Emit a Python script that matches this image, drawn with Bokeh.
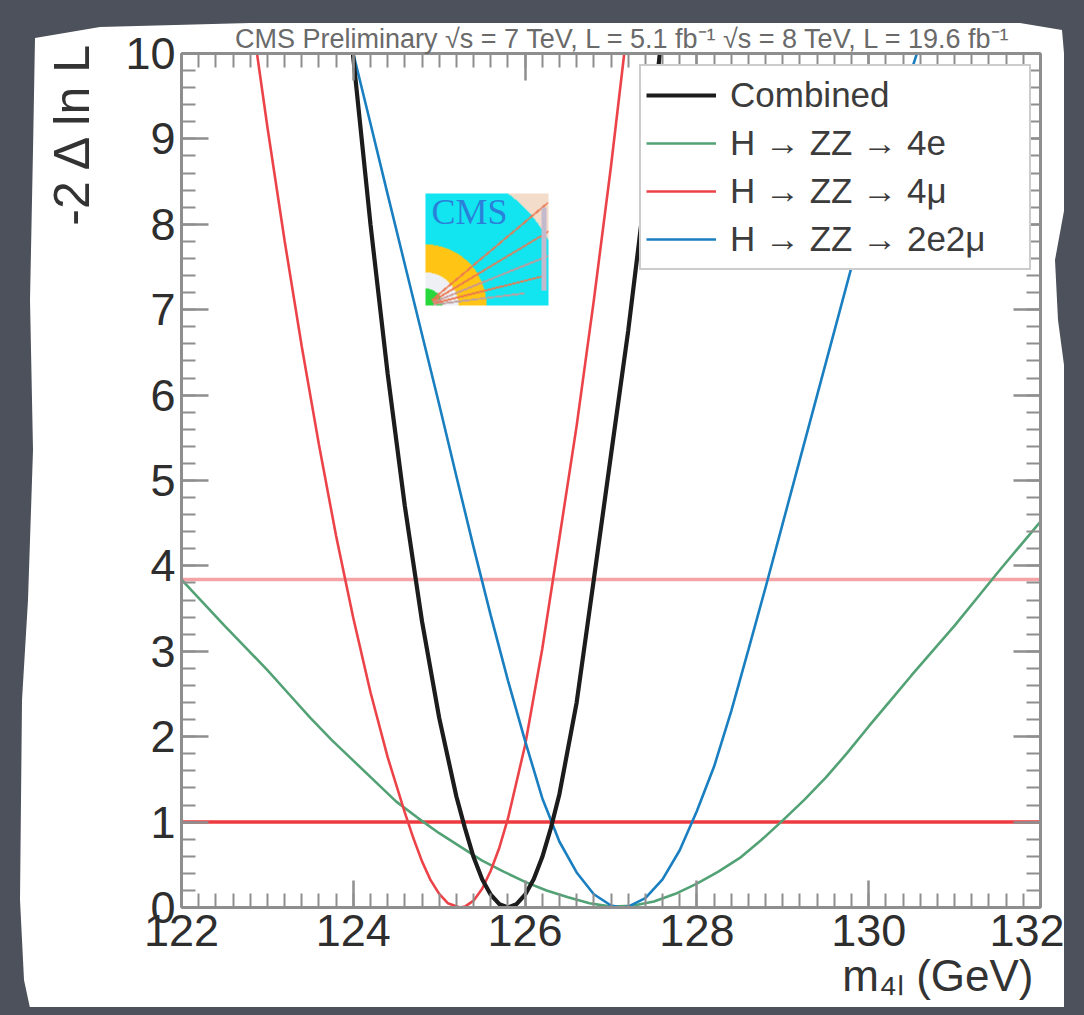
import numpy as np
from bokeh.plotting import figure
from bokeh.models import (Label, Span, SingleIntervalTicker, LinearAxis, Range1d, Legend,
                          LegendItem, Title)
from bokeh.embed import file_html
from bokeh.resources import INLINE

# ---------------- data ----------------
x_range_gev = [122, 132]
y_range_nll = [0, 10]
ref_levels = [1.0, 3.84]          # 68% and 95% CL lines

mass_combined = [123.9, 124.0, 124.2, 124.4, 124.6, 124.8, 125.0, 125.2, 125.3, 125.4, 125.5,
                 125.6, 125.7, 125.8, 125.9, 126.0, 126.1, 126.2, 126.3, 126.4, 126.6, 126.8,
                 127.0, 127.2, 127.4, 127.6]
nll_combined = [10.99, 9.95, 8.0, 6.25, 4.70, 3.35, 2.22, 1.30, 0.93, 0.59, 0.33,
                0.15, 0.04, 0.0, 0.04, 0.15, 0.33, 0.59, 0.93, 1.33, 2.40, 3.84,
                5.3, 6.75, 8.4, 10.3]

mass_4e = [122.0, 122.25, 122.5, 122.75, 123.0, 123.25, 123.5, 123.75, 124.0, 124.25, 124.5,
           124.75, 125.0, 125.25, 125.5, 125.75, 126.0, 126.25, 126.5, 126.75, 127.0, 127.25,
           127.5, 127.75, 128.0, 128.25, 128.5, 128.75, 129.0, 129.25, 129.5, 129.75, 130.0,
           130.25, 130.5, 130.75, 131.0, 131.25, 131.5, 131.75, 132.0]
nll_4e = [3.84, 3.57, 3.30, 3.04, 2.78, 2.50, 2.22, 1.96, 1.72, 1.48, 1.24,
          1.05, 0.87, 0.71, 0.55, 0.42, 0.30, 0.20, 0.12, 0.05, 0.01, 0.02,
          0.07, 0.16, 0.28, 0.42, 0.58, 0.79, 1.02, 1.26, 1.52, 1.81, 2.12,
          2.42, 2.72, 3.01, 3.30, 3.61, 3.92, 4.22, 4.52]

mass_4mu = [122.8, 123.0, 123.2, 123.4, 123.6, 123.8, 124.0, 124.2, 124.4, 124.6, 124.7, 124.8,
            124.9, 125.0, 125.1, 125.24, 125.3, 125.4, 125.5, 125.6, 125.7, 125.8, 126.0, 126.2,
            126.4, 126.6, 126.8, 127.0, 127.2]
nll_4mu = [10.56, 9.14, 7.81, 6.57, 5.42, 4.35, 3.39, 2.52, 1.76, 1.11, 0.81, 0.54,
           0.32, 0.16, 0.05, 0.0, 0.01, 0.08, 0.22, 0.43, 0.70, 1.04, 1.90, 3.03,
           4.33, 5.64, 7.11, 8.68, 10.39]

mass_2e2mu = [123.9, 124.0, 124.2, 124.4, 124.6, 124.8, 125.0, 125.2, 125.4, 125.6, 125.8, 126.0,
              126.2, 126.4, 126.6, 126.8, 127.0, 127.125, 127.2, 127.4, 127.6, 127.8, 128.0, 128.2,
              128.4, 128.6, 128.8, 129.0, 129.2, 129.4, 129.6, 129.8, 130.0, 130.2, 130.4, 130.6]
nll_2e2mu = [10.4, 10.0, 9.18, 8.35, 7.53, 6.71, 5.89, 5.05, 4.22, 3.42, 2.66, 1.95,
             1.28, 0.77, 0.41, 0.155, 0.023, 0.0, 0.01, 0.11, 0.33, 0.67, 1.13, 1.65,
             2.30, 3.02, 3.75, 4.5, 5.25, 6.0, 6.75, 7.5, 8.2, 8.85, 9.5, 10.12]

series_labels = ["Combined", "H \u2192 ZZ \u2192 4e", "H \u2192 ZZ \u2192 4\u03bc",
                 "H \u2192 ZZ \u2192 2e2\u03bc"]
title_text = ("CMS Preliminary  \u221as = 7 TeV, L = 5.1 fb\u207b\u00b9  "
              "\u221as = 8 TeV, L = 19.6 fb\u207b\u00b9")
x_title = "m\u2084\u2097 (GeV)"
y_title = "-2 \u0394 ln L"

# ---------------- styling ----------------
C_BLACK, C_GREEN, C_RED, C_BLUE = "#1c1c1c", "#52a275", "#ec4349", "#1a7fc0"
DARK = "#4c515b"
FONT = "Liberation Sans"
LEFT, TOP = 17, 19          # where the paper sheet starts on the page

p = figure(x_range=Range1d(*x_range_gev), y_range=Range1d(*y_range_nll),
           frame_width=859, frame_height=854,
           min_border_left=181 - LEFT, min_border_right=24, min_border_top=53 - TOP,
           min_border_bottom=100,
           x_axis_type=None, y_axis_type=None,
           output_backend="svg", toolbar_location=None)
p.background_fill_color = "white"
p.border_fill_color = "white"
p.outline_line_color = None
p.margin = (TOP, 0, 0, LEFT)

# torn paper outline (page pixels), used as a clip path of the sheet
torn = [(35, 38), (100, 27), (250, 23), (1020, 23), (1062, 30), (1068, 100), (1066, 200),
        (1055, 260), (1058, 320), (1066, 380), (1066, 1010), (30, 1008), (24, 980),
        (20, 900), (22, 700), (28, 600), (33, 450), (30, 300), (33, 150)]
p.styles = {"clip-path": "polygon(" + ", ".join(f"{a - LEFT}px {b - TOP}px" for a, b in torn) + ")"}


def style_axis(ax, show_labels):
    ax.axis_line_color = "#8e8e8e"
    ax.axis_line_width = 3
    ax.major_tick_line_color = "#8e8e8e"
    ax.major_tick_line_width = 2.5
    ax.major_tick_in = 27
    ax.major_tick_out = 0
    ax.minor_tick_line_color = "#8e8e8e"
    ax.minor_tick_line_width = 2
    ax.minor_tick_in = 14
    ax.minor_tick_out = 0
    ax.major_label_text_font = FONT
    ax.major_label_text_font_size = "45px"
    ax.major_label_text_color = "#2e2e2e"
    if not show_labels:
        ax.major_label_text_font_size = "1px"
        ax.major_label_text_color = None
        ax.major_label_standoff = 0


xb = LinearAxis(ticker=SingleIntervalTicker(interval=2, num_minor_ticks=10))
style_axis(xb, True)
xb.major_label_standoff = 7
p.add_layout(xb, "below")
xt = LinearAxis(ticker=SingleIntervalTicker(interval=2, num_minor_ticks=10))
style_axis(xt, False)
p.add_layout(xt, "above")
yl = LinearAxis(ticker=SingleIntervalTicker(interval=1, num_minor_ticks=5))
style_axis(yl, True)
yl.major_label_standoff = 6
p.add_layout(yl, "left")
yr = LinearAxis(ticker=SingleIntervalTicker(interval=1, num_minor_ticks=5))
style_axis(yr, False)
p.add_layout(yr, "right")

# texts outside the frame, as titles of the side panels
p.add_layout(Title(text=title_text, align="right", offset=14, standoff=0,
                   text_font=FONT, text_font_size="27px", text_font_style="normal",
                   text_color="#6a6a6a"), "above")
p.add_layout(Title(text=y_title, align="right", offset=-14, standoff=45,
                   text_font=FONT, text_font_size="50px", text_font_style="normal",
                   text_color="#333333"), "left")
p.add_layout(Title(text=x_title, align="right", offset=7, standoff=0,
                   text_font=FONT, text_font_size="44px", text_font_style="normal",
                   text_color="#333333"), "below")

# reference lines
p.add_layout(Span(location=ref_levels[0], dimension="width", line_color="#ee3a3e",
                  line_width=3.5, level="underlay"))
p.add_layout(Span(location=ref_levels[1], dimension="width", line_color="#f5a3a6",
                  line_width=3.5, level="underlay"))

# CMS logo (decoration) built as a small picture
H, W = 112, 123
yy, xx = np.mgrid[0:H, 0:W] + 0.5
rr = np.hypot(xx, yy)
th = np.degrees(np.arctan2(yy, xx))
rgb = np.zeros((H, W, 3))
rgb[:] = (244, 220, 202)
rgb[rr < 139] = (18, 228, 240)
rgb[(rr >= 33) & (rr < 61)] = (255, 196, 20)
rgb[rr < 33] = (238, 240, 246)
rgb[rr < 17] = (40, 215, 60)
for ang, rmax, col in [(40, 160, (236, 120, 80)), (31, 150, (236, 120, 80)),
                       (22, 140, (200, 150, 150)), (14, 120, (236, 120, 80)),
                       (7, 100, (190, 160, 160))]:
    dist = np.abs(rr * np.sin(np.radians(th - ang)))
    rgb[(dist < 0.9) & (rr > 8) & (rr < rmax) & (np.abs(th - ang) < 30)] = col
rgb[15:98, 116:121] = (196, 186, 206)
img = np.empty((H, W), dtype=np.uint32)
view = img.view(dtype=np.uint8).reshape((H, W, 4))
view[..., 0] = rgb[..., 0]
view[..., 1] = rgb[..., 1]
view[..., 2] = rgb[..., 2]
view[..., 3] = 255
gx = lambda X: 122 + (X - 181) / 85.9
gy = lambda Y: (907 - Y) / 85.4
p.image_rgba(image=[img], x=gx(425), y=gy(305), dw=gx(548) - gx(425), dh=gy(193) - gy(305))
p.add_layout(Label(x=gx(431), y=gy(231), text="CMS", text_font="Liberation Serif",
                   text_font_size="36px", text_color="#2f6fd6", text_alpha=0.85))

# curves
r_4e = p.line(mass_4e, nll_4e, line_color=C_GREEN, line_width=2.6)
r_4mu = p.line(mass_4mu, nll_4mu, line_color=C_RED, line_width=2.6)
r_2e2mu = p.line(mass_2e2mu, nll_2e2mu, line_color=C_BLUE, line_width=2.6)
r_comb = p.line(mass_combined, nll_combined, line_color=C_BLACK, line_width=4.2)

legend = Legend(items=[LegendItem(label=series_labels[0], renderers=[r_comb]),
                       LegendItem(label=series_labels[1], renderers=[r_4e]),
                       LegendItem(label=series_labels[2], renderers=[r_4mu]),
                       LegendItem(label=series_labels[3], renderers=[r_2e2mu])],
                location=(458, 637), orientation="vertical")
legend.label_text_font = FONT
legend.label_text_font_size = "35px"
legend.label_text_color = "#3c3c3c"
legend.glyph_width = 70
legend.glyph_height = 20
legend.label_height = 48
legend.label_width = 294
legend.label_standoff = 14
legend.spacing = 0
legend.padding = 5
legend.margin = 0
legend.border_line_color = "#9a9a9a"
legend.border_line_width = 2
legend.background_fill_color = "white"
legend.background_fill_alpha = 1
p.add_layout(legend)

template = ("{% block preamble %}<style>html, body { background-color: " + DARK +
            "; }</style>{% endblock %}")
open("out.html", "w").write(file_html(p, INLINE, template=template))
